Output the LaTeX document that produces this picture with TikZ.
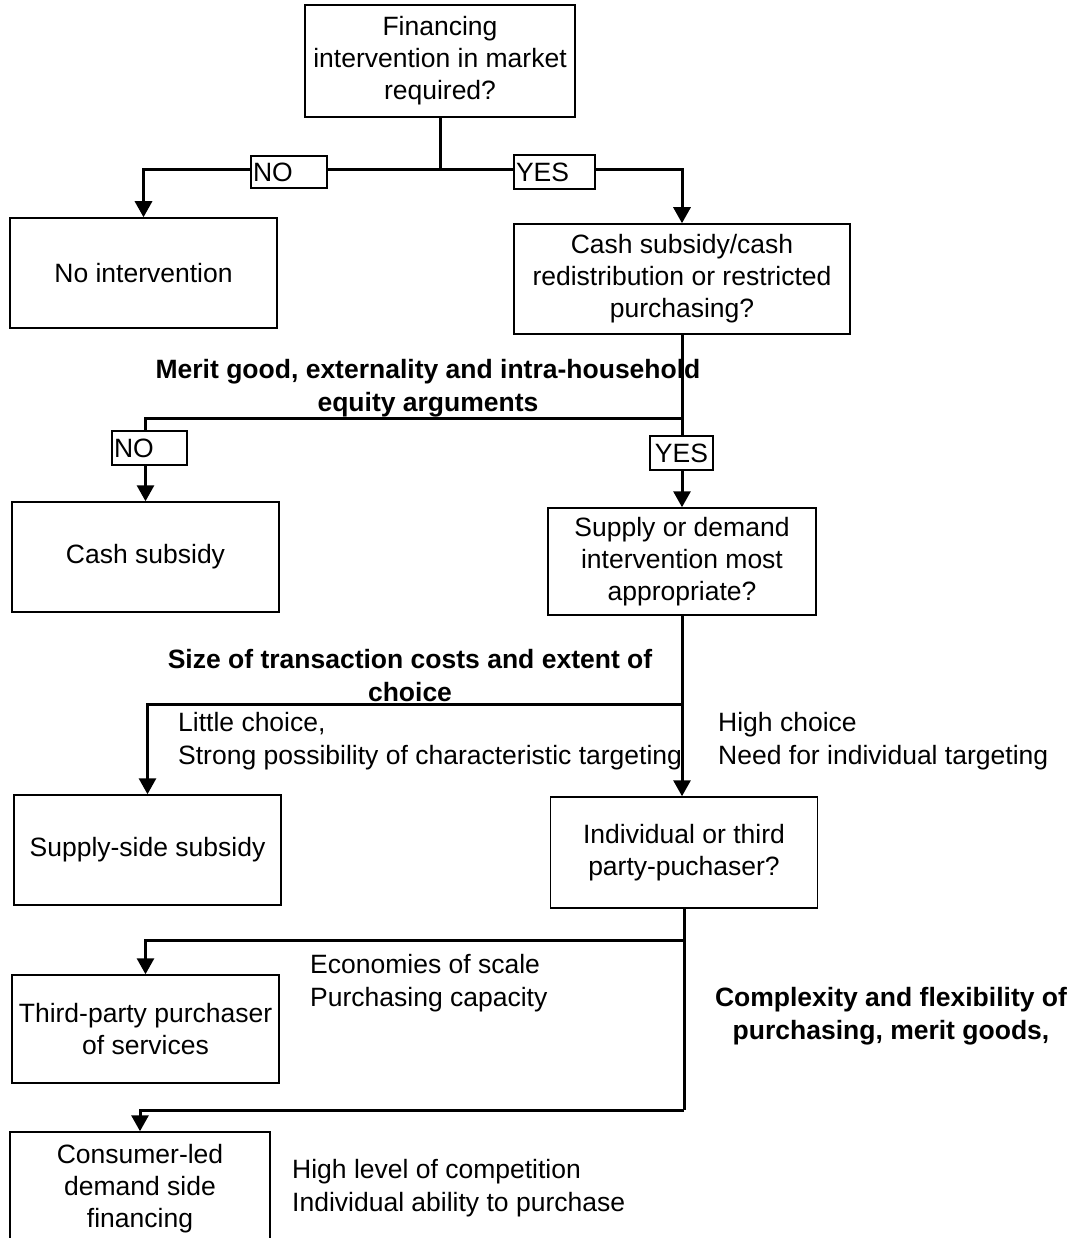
\documentclass[tikz,border=0pt]{standalone}
\usepackage{fontspec}
\setmainfont{Liberation Sans}
\usetikzlibrary{arrows.meta}
\tikzset{
  box/.style={draw, line width=1.5pt, align=center, inner sep=0pt, font=\fontsize{26.5}{32}\selectfont},
  lab/.style={draw, fill=white, line width=1.5pt, inner sep=0pt, font=\fontsize{26.5}{32}\selectfont},
  txt/.style={inner sep=0pt, font=\fontsize{26.5}{33}\selectfont},
  btxt/.style={inner sep=0pt, align=center, font=\fontsize{26.5}{33}\selectfont\bfseries},
  conn/.style={line width=3pt},
  arr/.style={line width=3pt, -{Triangle[width=17pt,length=16pt]}},
}
\begin{document}
\begin{tikzpicture}[x=1pt,y=-1pt]
\useasboundingbox (0,0) rectangle (1074,1238);
% boxes
\node[box, minimum width=270pt, minimum height=112pt] (b1) at (440,61) {Financing\\intervention in market\\required?};
\node[box, minimum width=267pt, minimum height=110pt] (noint) at (143.5,273) {No intervention};
\node[box, minimum width=336pt, minimum height=110pt] (b2) at (682,279) {Cash subsidy/cash\\redistribution or restricted\\purchasing?};
\node[box, minimum width=267pt, minimum height=110pt] (cash) at (145.5,557) {Cash subsidy};
\node[box, minimum width=268pt, minimum height=107pt] (b3) at (682,561.5) {Supply or demand\\intervention most\\appropriate?};
\node[box, minimum width=267pt, minimum height=110pt] (supply) at (147.5,850) {Supply-side subsidy};
\node[box, minimum width=267pt, minimum height=111pt] (b4) at (684,852.5) {Individual or third\\party-puchaser?};
\node[box, minimum width=267pt, minimum height=108pt] (third) at (145.5,1029) {Third-party purchaser\\of services};
\node[box, minimum width=260pt, minimum height=114pt] (cons) at (140,1189) {Consumer-led\\demand side\\financing};
% junctions
\coordinate (j1) at (440,170);
\coordinate (j2) at (682,418);
\coordinate (j3) at (682,704);
\coordinate (j4) at (684,940);
\coordinate (j5) at (684,1110);
% connectors
\draw[conn] (b1.south) -- (j1);
\draw[arr] (j1) -| (noint.north);
\draw[arr] (j1) -| (b2.north);
\draw[conn] (b2.south) -- (j2);
\draw[arr] (j2) -| (cash.north);
\draw[arr] (j2) -- (b3.north);
\draw[conn] (b3.south) -- (j3);
\draw[arr] (j3) -| (supply.north);
\draw[arr] (j3) -- (j3 |- b4.north);
\draw[conn] (b4.south) -- (j5);
\draw[arr] (j4) -| (third.north);
\draw[arr] (j5) -| (cons.north);
% labels on connectors
\node[lab, minimum width=76pt, minimum height=32pt, text width=72pt, align=left] (no1) at (289,172) {NO};
\node[lab, minimum width=81pt, minimum height=34pt, text width=77pt, align=left] (yes1) at (554.5,172) {YES};
\node[lab, minimum width=75pt, minimum height=34pt, text width=71pt, align=left] (no2) at (149.5,448) {NO};
\node[lab, minimum width=63pt, minimum height=34pt, align=center] (yes2) at (681.5,453) {YES};
% free texts
\node[btxt] (t1) at (428,388.5) {Merit good, externality and intra-household\\equity arguments};
\node[btxt] (t2) at (410,676) {Size of transaction costs and extent of\\choice};
\node[txt, anchor=west, align=left] (t3) at (178,741.5) {Little choice,\\Strong possibility of characteristic targeting};
\node[txt, anchor=west, align=left] (t4) at (718,741.5) {High choice\\Need for individual targeting};
\node[txt, anchor=west, align=left] (t5) at (310,983.5) {Economies of scale\\Purchasing capacity};
\node[btxt] (t6) at (891,1016.5) {Complexity and flexibility of\\purchasing, merit goods,};
\node[txt, anchor=west, align=left] (t7) at (292,1188.5) {High level of competition\\Individual ability to purchase};
\end{tikzpicture}
\end{document}
